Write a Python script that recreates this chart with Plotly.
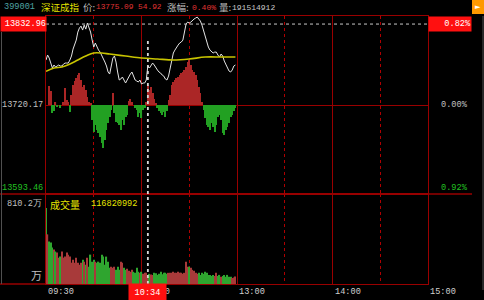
import plotly.graph_objects as go

# ---------------- data ----------------
PREV_CLOSE = 13720.17
minutes = list(range(120))  # minute index from 09:30 (morning session)

price = [13782.8, 13789.8, 13785.6, 13778.6, 13771.7, 13775.9, 13773.1, 13774.5, 13775.9, 13774.5,
         13774.5, 13777.2, 13778.6, 13778.6, 13778.6, 13782.8, 13788.4, 13798.1, 13803.7, 13810.6,
         13821.8, 13827.4, 13830.1, 13824.6, 13831.5, 13825.9, 13834.3, 13827.4, 13821.8, 13810.6,
         13800.9, 13806.5, 13800.9, 13796.7, 13793.9, 13789.8, 13785.6, 13780.0, 13774.5, 13766.1,
         13763.3, 13773.1, 13785.6, 13788.4, 13780.0, 13766.1, 13755.0, 13756.4, 13759.2, 13755.0,
         13750.8, 13755.0, 13760.5, 13763.3, 13766.1, 13760.5, 13755.0, 13753.6, 13752.2, 13755.0,
         13749.4, 13750.8, 13750.8, 13755.0, 13775.09, 13771.7, 13774.5, 13778.6, 13775.9, 13771.7,
         13768.9, 13766.1, 13764.7, 13761.9, 13760.5, 13756.4, 13755.0, 13760.5, 13770.3, 13782.8,
         13792.6, 13796.7, 13800.9, 13803.7, 13806.5, 13807.9, 13810.6, 13824.6, 13833.0, 13835.7,
         13834.3, 13835.7, 13838.5, 13839.9, 13841.3, 13842.7, 13839.9, 13837.1, 13831.5, 13823.2,
         13814.8, 13807.9, 13800.9, 13796.7, 13793.9, 13792.6, 13793.9, 13793.9, 13789.8, 13787.0,
         13791.2, 13788.4, 13781.4, 13777.2, 13771.7, 13767.5, 13766.1, 13768.9, 13774.5, 13775.9]

avg_minutes = [0, 5, 10, 15, 20, 25, 30, 35, 40, 50, 60, 70, 80, 90, 100, 110, 119]
avg_price = [13767.0, 13771.7, 13773.1, 13777.3, 13782.9, 13788.4, 13792.6, 13792.6, 13791.2,
             13788.4, 13785.6, 13784.2, 13782.9, 13784.2, 13787.0, 13787.0, 13787.0]

# buy/sell strength bars (relative units)
momentum = [0, 0, 19, 14, -8, -6, 3, -2, 0, -3,
            0, 3, 17, 5, 3, -7, 10, 20, 24, 27,
            30, 32, 25, 18, 20, 15, 8, 3, 2, -15,
            -27, -20, -25, -28, -32, -38, -43, -35, -25, -18,
            -12, -5, 12, -8, -17, -18, -20, -25, -15, -20,
            -12, -10, 4, 6, 3, 0, -3, -5, -12, -8,
            -13, -5, -3, 3, 20, 15, 18, 12, 6, 2,
            -3, -6, -8, -10, -7, -12, -6, 5, 10, 20,
            23, 25, 27, 28, 30, 32, 33, 35, 38, 43,
            45, 40, 35, 33, 30, 25, 18, 12, 3, -5,
            -13, -20, -22, -25, -18, -22, -27, -20, -12, -10,
            -15, -28, -30, -25, -22, -18, -12, -10, -6, -3]

# volume per minute (万股)
volume = [810, 529, 454, 443, 389, 367, 346, 335, 281, 292,
          346, 281, 292, 335, 313, 292, 227, 259, 227, 281,
          227, 205, 227, 259, 238, 205, 281, 184, 313, 238,
          259, 238, 227, 238, 227, 313, 292, 205, 292, 238,
          173, 184, 173, 184, 151, 184, 151, 238, 227, 173,
          151, 162, 140, 130, 151, 130, 119, 173, 130, 119,
          130, 110, 119, 120, 97, 108, 100, 97, 119, 115,
          97, 108, 130, 105, 119, 119, 108, 119, 119, 119,
          130, 119, 119, 130, 119, 119, 108, 119, 238, 184,
          184, 173, 151, 140, 119, 108, 119, 97, 119, 108,
          130, 119, 97, 97, 86, 97, 86, 119, 86, 97,
          76, 86, 97, 76, 97, 76, 76, 65, 70, 80]

left_labels = ["13832.96", "13720.17", "13593.46"]
right_labels = ["0.82%", "0.00%", "0.92%"]
time_labels = ["09:30", "10:30", "13:00", "14:00", "15:00"]
time_label_minutes = [0, 60, 120, 180, 240]
cursor_minute = 64
cursor_label = "10:34"
max_line_price = 13832.96

# ---------------- styles ----------------
GRID = "#990000"
RED = "#ab2626"
GREEN = "#22a022"
VRED = "#a83a3a"
VGREEN = "#2fa52f"
MONO = "Liberation Mono"
CJK = "Noto Sans CJK SC"

W, H = 484, 300
L, R, T, B = 46, 56, 16, 16
PW, PH = W - L - R, H - T - B
SPLIT = 194  # separator pixel row


def px(xp):
    return (xp - L) / PW


def py(yp):
    return (H - B - yp) / PH


mom_colors = [RED if v >= 0 else GREEN for v in momentum]
vol_colors = [VGREEN if i == 0 else (VRED if price[i] >= price[i - 1] else VGREEN) for i in range(len(volume))]

fig = go.Figure()
fig.add_trace(go.Bar(x=minutes, y=momentum, marker=dict(color=mom_colors, line=dict(width=0)),
                     width=0.7, xaxis="x", yaxis="y", hoverinfo="skip"))
fig.add_trace(go.Scatter(x=minutes, y=price, mode="lines", line=dict(color="#e4e4e4", width=1),
                         xaxis="x", yaxis="y2"))
fig.add_trace(go.Scatter(x=avg_minutes, y=avg_price, mode="lines",
                         line=dict(color="#c8c400", width=1.6, shape="spline"), xaxis="x", yaxis="y2"))
fig.add_trace(go.Bar(x=minutes, y=volume, marker=dict(color=vol_colors, line=dict(width=0)),
                     width=0.75, xaxis="x2", yaxis="y3"))

dom_split = py(SPLIT)
xcommon = dict(range=[0, 240], showticklabels=False, ticks="", tickvals=[60, 120, 180],
               showgrid=True, gridcolor=GRID, gridwidth=1, zeroline=False,
               showline=True, linecolor=GRID, linewidth=1, mirror=True,
               minor=dict(tickvals=[30, 90, 150, 210], showgrid=True, gridcolor="#b00000",
                          griddash="dot", gridwidth=1, ticks=""))

fig.update_layout(
    width=W, height=H, margin=dict(l=L, r=R, t=T, b=B),
    paper_bgcolor="black", plot_bgcolor="black", showlegend=False, barmode="overlay",
    xaxis=dict(domain=[0, 1], anchor="y", **xcommon),
    xaxis2=dict(domain=[0, 1], anchor="y3", matches="x", **xcommon),
    yaxis=dict(domain=[dom_split, 1], range=[-89, 89], tickvals=[0], showticklabels=False,
               showgrid=True, gridcolor=GRID, zeroline=False, showline=True, linecolor=GRID,
               mirror=True, ticks=""),
    yaxis2=dict(overlaying="y", range=[PREV_CLOSE - 124, PREV_CLOSE + 124], showgrid=False,
                showticklabels=False, zeroline=False, showline=False, ticks=""),
    yaxis3=dict(domain=[0, dom_split], range=[0, 959], showgrid=False, showticklabels=False,
                zeroline=False, showline=True, linecolor=GRID, mirror=True, ticks=""),
)

shapes = [
    # separator and bottom lines extended into side panels
    dict(type="line", xref="paper", yref="paper", x0=px(0), x1=px(472), y0=py(SPLIT), y1=py(SPLIT),
         line=dict(color=GRID, width=1.5)),
    dict(type="line", xref="paper", yref="paper", x0=px(0), x1=0, y0=py(284), y1=py(284),
         line=dict(color=GRID, width=1.5)),
    # left / right grey borders
    dict(type="line", xref="paper", yref="paper", x0=px(1.5), x1=px(1.5), y0=py(284), y1=py(32),
         line=dict(color="#505050", width=1)),
    dict(type="line", xref="paper", yref="paper", x0=px(483), x1=px(483), y0=py(290), y1=py(16),
         line=dict(color="#505050", width=1)),
    # horizontal dotted line
    dict(type="line", xref="x", yref="y2", x0=0, x1=240, y0=max_line_price, y1=max_line_price,
         line=dict(color="#c8c8c8", width=1, dash="dot")),
    # vertical cursor line
    dict(type="line", xref="x", yref="paper", x0=cursor_minute, x1=cursor_minute, y0=0, y1=py(38),
         line=dict(color="#d8d8d8", width=1.8, dash="dot")),
    # orange icon
    dict(type="rect", xref="paper", yref="paper", x0=px(472), x1=px(484), y0=py(14), y1=py(0),
         fillcolor="#ff9900", line=dict(width=0)),
]
fig.update_layout(shapes=shapes)


def label(text, xp, yp, color, xanchor="left", size=8.6, family=MONO, **kw):
    return dict(text=text, x=px(xp), y=py(yp), xref="paper", yref="paper", xanchor=xanchor,
                yanchor="middle", showarrow=False, font=dict(family=family, size=size, color=color), **kw)


ann = [
    # header
    label("399001", 2, 7, "#4fa3a3"),
    label("深证成指", 39, 7, "#e6e600", family=CJK, size=9.5),
    label("价:", 81, 7, "#bdbdbd", family=CJK, size=9.5),
    label("13775.09 54.92", 94, 7, "#e03434", size=7.8),
    label("涨幅:", 165, 7, "#bdbdbd", family=CJK, size=9.5),
    label("0.40%", 190, 7, "#e03434", size=8),
    label("量:", 217, 7, "#bdbdbd", family=CJK, size=9.5),
    label("191514912", 230, 7, "#c8c8c8", size=8),
    label("►", 478, 7, "white", xanchor="center", size=7, family="DejaVu Sans"),
    # left price labels
    label(left_labels[0], 0, 24, "white", width=45, height=14, bgcolor="#ff1010", align="right",
          borderpad=0),
    label(left_labels[1], 45, 105, "#c0c0c0", xanchor="right"),
    label(left_labels[2], 45, 188, "#22c022", xanchor="right"),
    # right percent labels
    label(right_labels[0], 428, 24, "white", width=42, height=14, bgcolor="#ff1010", align="right",
          borderpad=0),
    label(right_labels[1], 470, 105, "#c0c0c0", xanchor="right"),
    label(right_labels[2], 470, 188, "#22c022", xanchor="right"),
    # volume labels
    label("810.2万", 44, 204, "#c0c0c0", xanchor="right", family=MONO),
    label("万", 44, 275, "#c0c0c0", xanchor="right", family=CJK, size=11),
    label("成交量", 48, 204, "#e6e600", family=CJK, size=10),
    label("116820992", 89, 204, "#e6e600"),
]
for t, m in zip(time_labels, time_label_minutes):
    ann.append(dict(text=t, x=m, xref="x", y=py(292), yref="paper", xanchor="left", yanchor="middle",
                    showarrow=False, font=dict(family=MONO, size=8.6, color="#d0d0d0")))
ann.append(dict(text=cursor_label, x=cursor_minute, xref="x", y=py(292), yref="paper", xanchor="center",
                yanchor="middle", showarrow=False, width=35, height=15, bgcolor="#ff1010",
                font=dict(family=MONO, size=8.6, color="white")))
fig.update_layout(annotations=ann)

fig.write_html("out.html")
